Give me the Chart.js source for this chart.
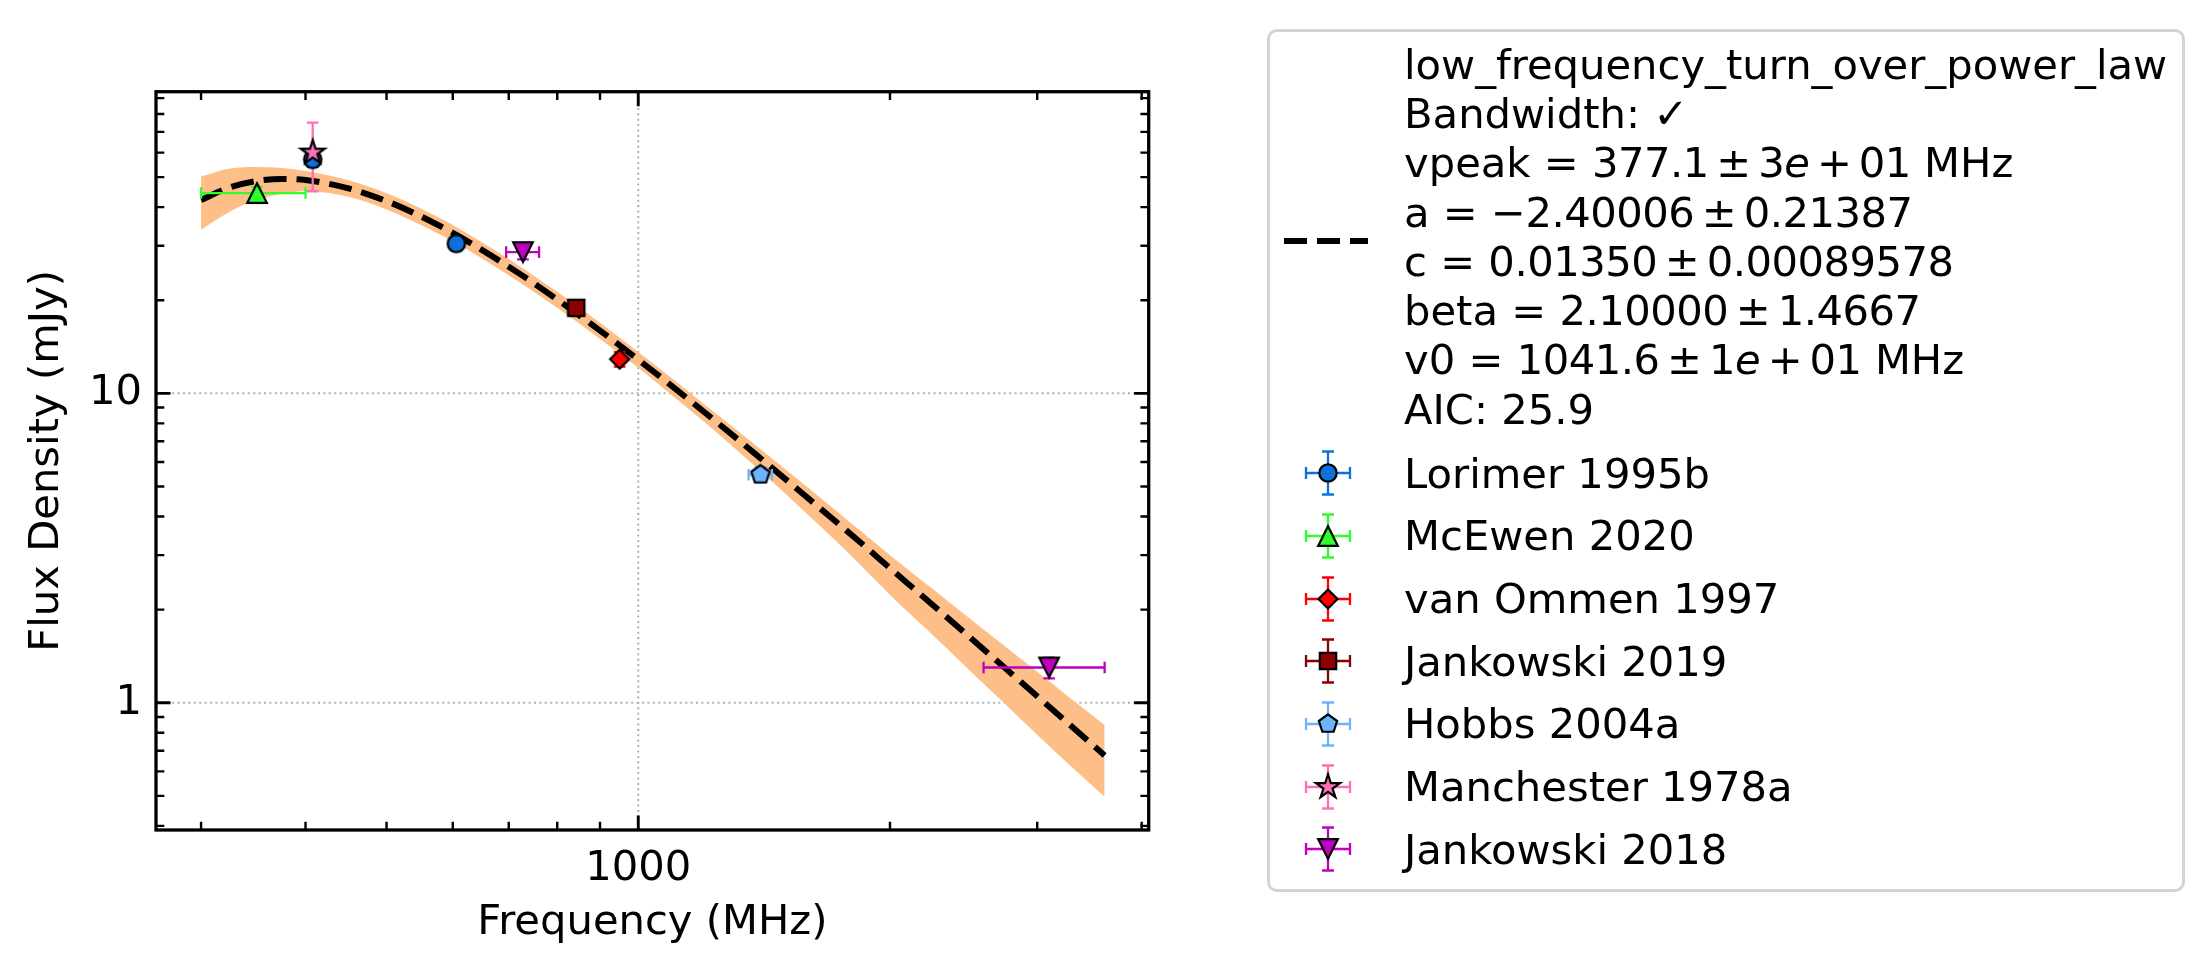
<!DOCTYPE html>
<html>
<head>
<meta charset="utf-8">
<script src="https://cdn.jsdelivr.net/npm/chart.js@4.4.1/dist/chart.umd.min.js"></script>
<style>
    body { margin: 0; background: #fff; }
    #wrap { position: relative; width: 2210px; height: 975px; font-family: 'DejaVu Sans', sans-serif; color: #000; }
    #fluxChart { position: absolute; left: 0; top: 0; }
    #legendBox { position: absolute; left: 1267px; top: 29px; width: 912px; height: 857px; border: 3px solid #d4d4d4; border-radius: 10px; }
    .legText { position: absolute; font-size: 41.7px; line-height: 48.5px; white-space: nowrap; }
    .legSym { position: absolute; }
    .m { letter-spacing: -0.5px; }
    .op { margin: 0 7.5px; }
</style>
</head>
<body>
<div id="wrap">
    <canvas id="fluxChart" width="2210" height="975"></canvas>
    <div id="legendBox"></div>
</div>
<script>
// axis limits
const xMin = 265, xMax = 4078;
const yMin = 0.388, yMax = 94.4;

// sources
const sourceNames = ['Lorimer 1995b', 'McEwen 2020', 'van Ommen 1997', 'Jankowski 2019', 'Hobbs 2004a', 'Manchester 1978a', 'Jankowski 2018'];
const sourceColours = ['#0f6fdc', '#2cff2c', '#ff0000', '#8b0000', '#6cb4ff', '#ff70b8', '#bf00bf'];
const sourceMarkers = ['circle', 'triangle', 'diamond', 'square', 'pentagon', 'star', 'triangleDown'];

// measured points (MHz, mJy)
const pointFreq    = [408, 606, 350, 950, 843, 1400, 408, 728, 3100];
const pointFlux    = [57, 30.5, 44.4, 12.9, 18.9, 5.46, 60, 28.6, 1.3];
const pointFreqErr = [0, 0, 50, 0, 0, 45, 0, 33, 512];
const pointFluxErr = [3, 1.5, 2, 0.7, 1, 0.3, 15, 1.5, 0.1];
const pointSource  = [0, 0, 1, 2, 3, 4, 5, 6, 6];

// fitted model and its uncertainty band
const fitFreq   = [300, 325, 350, 375, 400, 450, 500, 550, 600, 650, 700, 750, 800, 900, 1000, 1100, 1200, 1300, 1400, 1550, 1700, 1850, 2000, 2250, 2500, 2750, 3000, 3250, 3612];
const fitFlux   = [42.2, 46.35, 48.6, 49.3, 48.9, 46.0, 41.8, 37.3, 33.0, 29.1, 25.65, 22.7, 20.1, 15.95, 12.85, 10.5, 8.69, 7.29, 6.17, 4.90, 3.97, 3.27, 2.725, 2.07, 1.616, 1.29, 1.050, 0.869, 0.676];
const bandUpper = [50.2, 53.3, 53.9, 53.5, 52.3, 48.8, 44.3, 39.5, 35.0, 30.8, 27.2, 24.0, 21.3, 16.9, 13.6, 11.13, 9.21, 7.76, 6.60, 5.29, 4.31, 3.57, 3.00, 2.33, 1.86, 1.516, 1.26, 1.06, 0.848];
const bandLower = [33.8, 38.7, 42.3, 44.1, 45.0, 43.2, 39.3, 35.0, 31.0, 27.3, 24.1, 21.3, 18.9, 15.0, 12.1, 9.81, 8.08, 6.70, 5.61, 4.36, 3.45, 2.76, 2.23, 1.656, 1.26, 0.987, 0.788, 0.643, 0.497];

const fitLines = [
    'low_frequency_turn_over_power_law',
    'Bandwidth: ✓',
    'vpeak = <span class="m">377.1<span class="op">±</span>3<i>e</i><span class="op">+</span>01</span> MHz',
    'a = <span class="m">−2.40006<span class="op">±</span>0.21387</span>',
    'c = <span class="m">0.01350<span class="op">±</span>0.00089578</span>',
    'beta = <span class="m">2.10000<span class="op">±</span>1.4667</span>',
    'v0 = <span class="m">1041.6<span class="op">±</span>1<i>e</i><span class="op">+</span>01</span> MHz',
    'AIC: 25.9'
];

const FONT = "'DejaVu Sans', sans-serif";
Chart.defaults.font.family = FONT;
Chart.defaults.font.size = 41.7;
Chart.defaults.color = '#000';

function makeMarker(kind, colour) {
    const c = document.createElement('canvas');
    c.width = 32; c.height = 32;
    const g = c.getContext('2d');
    g.translate(16, 16);
    g.beginPath();
    if (kind === 'circle') {
        g.arc(0, 0, 8.7, 0, Math.PI * 2);
    } else if (kind === 'triangle' || kind === 'triangleDown') {
        const h = 9.8, s = kind === 'triangle' ? 1 : -1;
        g.moveTo(0, -h * s); g.lineTo(-h, h * s); g.lineTo(h, h * s); g.closePath();
    } else if (kind === 'square') {
        g.rect(-8.2, -8.2, 16.4, 16.4);
    } else if (kind === 'diamond') {
        g.moveTo(0, -9.5); g.lineTo(9.5, 0); g.lineTo(0, 9.5); g.lineTo(-9.5, 0); g.closePath();
    } else if (kind === 'pentagon') {
        for (let i = 0; i < 5; i++) {
            const a = -Math.PI / 2 + i * 2 * Math.PI / 5;
            g.lineTo(9.6 * Math.cos(a), 9.6 * Math.sin(a));
        }
        g.closePath();
    } else if (kind === 'star') {
        for (let i = 0; i < 10; i++) {
            const r = i % 2 ? 12.6 * 0.382 : 12.6;
            const a = -Math.PI / 2 + i * Math.PI / 5;
            g.lineTo(r * Math.cos(a), r * Math.sin(a));
        }
        g.closePath();
    }
    g.fillStyle = colour;
    g.fill();
    g.lineWidth = 2.2;
    g.strokeStyle = '#000';
    g.stroke();
    return c;
}

function logTicks(min, max) {
    const out = [];
    for (let e = Math.floor(Math.log10(min)); e <= Math.ceil(Math.log10(max)); e++) {
        for (let m = 1; m <= 9; m++) {
            const v = m * Math.pow(10, e);
            if (v >= min && v <= max) out.push({ v: v, major: m === 1 });
        }
    }
    return out;
}

// datasets
const datasets = [];
datasets.push({
    label: 'band',
    data: fitFreq.map((f, i) => ({ x: f, y: bandUpper[i] })),
    showLine: true, borderWidth: 0, borderColor: 'rgba(0,0,0,0)',
    pointRadius: 0, backgroundColor: '#fdbf87', fill: '+1',
    cubicInterpolationMode: 'monotone', order: 20
});
datasets.push({
    label: 'bandLow',
    data: fitFreq.map((f, i) => ({ x: f, y: bandLower[i] })),
    showLine: true, borderWidth: 0, borderColor: 'rgba(0,0,0,0)',
    pointRadius: 0, fill: false, cubicInterpolationMode: 'monotone', order: 21
});
datasets.push({
    label: 'fit',
    data: fitFreq.map((f, i) => ({ x: f, y: fitFlux[i] })),
    showLine: true, borderWidth: 6, borderColor: '#000', borderDash: [23, 10],
    pointRadius: 0, fill: false, cubicInterpolationMode: 'monotone', order: 10
});
const FIT_INDEX = 2;

sourceNames.forEach((name, s) => {
    const pts = [];
    pointFreq.forEach((f, i) => {
        if (pointSource[i] === s) pts.push({ x: f, y: pointFlux[i] });
    });
    datasets.push({
        label: name,
        data: pts,
        pointStyle: makeMarker(sourceMarkers[s], sourceColours[s]),
        pointRadius: 10,
        showLine: false,
        order: 8 - s
    });
});

function drawErrorBars(chart) {
    const { ctx, scales: { x, y } } = chart;
    const cap = 5.8;
    ctx.save();
    ctx.lineWidth = 2.3;
    pointFreq.forEach((f, i) => {
        ctx.strokeStyle = sourceColours[pointSource[i]];
        const px = x.getPixelForValue(f);
        const py = y.getPixelForValue(pointFlux[i]);
        if (pointFluxErr[i] > 0) {
            const y1 = y.getPixelForValue(pointFlux[i] + pointFluxErr[i]);
            const y2 = y.getPixelForValue(pointFlux[i] - pointFluxErr[i]);
            ctx.beginPath();
            ctx.moveTo(px, y1); ctx.lineTo(px, y2);
            ctx.moveTo(px - cap, y1); ctx.lineTo(px + cap, y1);
            ctx.moveTo(px - cap, y2); ctx.lineTo(px + cap, y2);
            ctx.stroke();
        }
        if (pointFreqErr[i] > 0) {
            const x1 = x.getPixelForValue(f - pointFreqErr[i]);
            const x2 = x.getPixelForValue(f + pointFreqErr[i]);
            ctx.beginPath();
            ctx.moveTo(x1, py); ctx.lineTo(x2, py);
            ctx.moveTo(x1, py - cap); ctx.lineTo(x1, py + cap);
            ctx.moveTo(x2, py - cap); ctx.lineTo(x2, py + cap);
            ctx.stroke();
        }
    });
    ctx.restore();
}

const axesPlugin = {
    id: 'axesPlugin',
    beforeDatasetsDraw(chart) {
        // dotted grid at the decades only
        const { ctx, chartArea: a, scales: { x, y } } = chart;
        ctx.save();
        ctx.strokeStyle = '#b0b0b0';
        ctx.lineWidth = 2;
        ctx.setLineDash([2, 3.4]);
        logTicks(xMin, xMax).filter(t => t.major).forEach(t => {
            const px = x.getPixelForValue(t.v);
            ctx.beginPath(); ctx.moveTo(px, a.top); ctx.lineTo(px, a.bottom); ctx.stroke();
        });
        logTicks(yMin, yMax).filter(t => t.major).forEach(t => {
            const py = y.getPixelForValue(t.v);
            ctx.beginPath(); ctx.moveTo(a.left, py); ctx.lineTo(a.right, py); ctx.stroke();
        });
        ctx.restore();
    },
    afterDatasetDraw(chart, args) {
        if (args.index === FIT_INDEX) drawErrorBars(chart);
    },
    afterDatasetsDraw(chart) {
        const { ctx, chartArea: a, scales: { x, y } } = chart;
        ctx.save();
        ctx.strokeStyle = '#000';
        logTicks(xMin, xMax).forEach(t => {
            const px = x.getPixelForValue(t.v);
            const len = t.major ? 14.6 : 8.3;
            ctx.lineWidth = t.major ? 2.9 : 2.4;
            ctx.beginPath();
            ctx.moveTo(px, a.bottom); ctx.lineTo(px, a.bottom - len);
            ctx.moveTo(px, a.top); ctx.lineTo(px, a.top + len);
            ctx.stroke();
        });
        logTicks(yMin, yMax).forEach(t => {
            const py = y.getPixelForValue(t.v);
            const len = t.major ? 14.6 : 8.3;
            ctx.lineWidth = t.major ? 2.9 : 2.4;
            ctx.beginPath();
            ctx.moveTo(a.left, py); ctx.lineTo(a.left + len, py);
            ctx.moveTo(a.right, py); ctx.lineTo(a.right - len, py);
            ctx.stroke();
        });
        ctx.lineWidth = 3.3;
        ctx.strokeRect(a.left, a.top, a.right - a.left, a.bottom - a.top);
        ctx.restore();
    }
};

new Chart(document.getElementById('fluxChart'), {
    type: 'scatter',
    data: { datasets: datasets },
    options: {
        responsive: false,
        animation: false,
        devicePixelRatio: 1,
        layout: { padding: { left: 0, top: 91.7, right: 1061.3, bottom: 0 } },
        plugins: { legend: { display: false }, tooltip: { enabled: false } },
        scales: {
            x: {
                type: 'logarithmic', min: xMin, max: xMax, position: 'bottom',
                grid: { display: false, drawTicks: false, tickLength: 0 },
                border: { display: false },
                ticks: {
                    autoSkip: false, maxRotation: 0, padding: 14,
                    callback: (v) => Math.abs(v - 1000) < 1e-6 ? '1000' : null
                },
                title: { display: true, text: 'Frequency (MHz)', padding: { top: 0, bottom: 26.5 } },
                afterFit: (s) => { s.height = 145; }
            },
            y: {
                type: 'logarithmic', min: yMin, max: yMax, position: 'left',
                grid: { display: false, drawTicks: false, tickLength: 0 },
                border: { display: false },
                ticks: {
                    autoSkip: false, padding: 14,
                    callback: (v) => Math.abs(v - 1) < 1e-9 ? '1' : (Math.abs(v - 10) < 1e-9 ? '10' : null)
                },
                title: { display: true, text: 'Flux Density (mJy)', padding: { top: 22.3, bottom: 0 } },
                afterFit: (s) => { s.width = 156; }
            }
        }
    },
    plugins: [axesPlugin]
});

// legend (drawn as html next to the chart)
const wrap = document.getElementById('wrap');
function addText(html, left, baseline) {
    const d = document.createElement('div');
    d.className = 'legText';
    d.innerHTML = html;
    d.style.left = left + 'px';
    d.style.top = (baseline - 38.7) + 'px';
    wrap.appendChild(d);
}

const fitSym = document.createElement('canvas');
fitSym.width = 90; fitSym.height = 20;
fitSym.className = 'legSym';
fitSym.style.left = '1284px';
fitSym.style.top = '231px';
(function () {
    const g = fitSym.getContext('2d');
    g.strokeStyle = '#000';
    g.lineWidth = 6;
    g.setLineDash([23, 10]);
    g.beginPath(); g.moveTo(0, 10); g.lineTo(84, 10); g.stroke();
})();
wrap.appendChild(fitSym);

fitLines.forEach((t, k) => addText(t, 1404, 79.3 + k * 49.3));

sourceNames.forEach((name, s) => {
    const cy = 473.3 + s * 62.67;
    const sym = document.createElement('canvas');
    sym.width = 60; sym.height = 60;
    sym.className = 'legSym';
    sym.style.left = (1327.6 - 30) + 'px';
    sym.style.top = (cy - 30) + 'px';
    const g = sym.getContext('2d');
    g.strokeStyle = sourceColours[s];
    g.lineWidth = 2.3;
    g.beginPath();
    g.moveTo(30, 8.5); g.lineTo(30, 51.5);
    g.moveTo(24, 8.5); g.lineTo(36, 8.5);
    g.moveTo(24, 51.5); g.lineTo(36, 51.5);
    g.moveTo(8, 30); g.lineTo(52, 30);
    g.moveTo(8, 24); g.lineTo(8, 36);
    g.moveTo(52, 24); g.lineTo(52, 36);
    g.stroke();
    const m = makeMarker(sourceMarkers[s], sourceColours[s]);
    g.drawImage(m, 14, 14);
    wrap.appendChild(sym);
    addText(name, 1404, cy + 15.2);
});
</script>
</body>
</html>
